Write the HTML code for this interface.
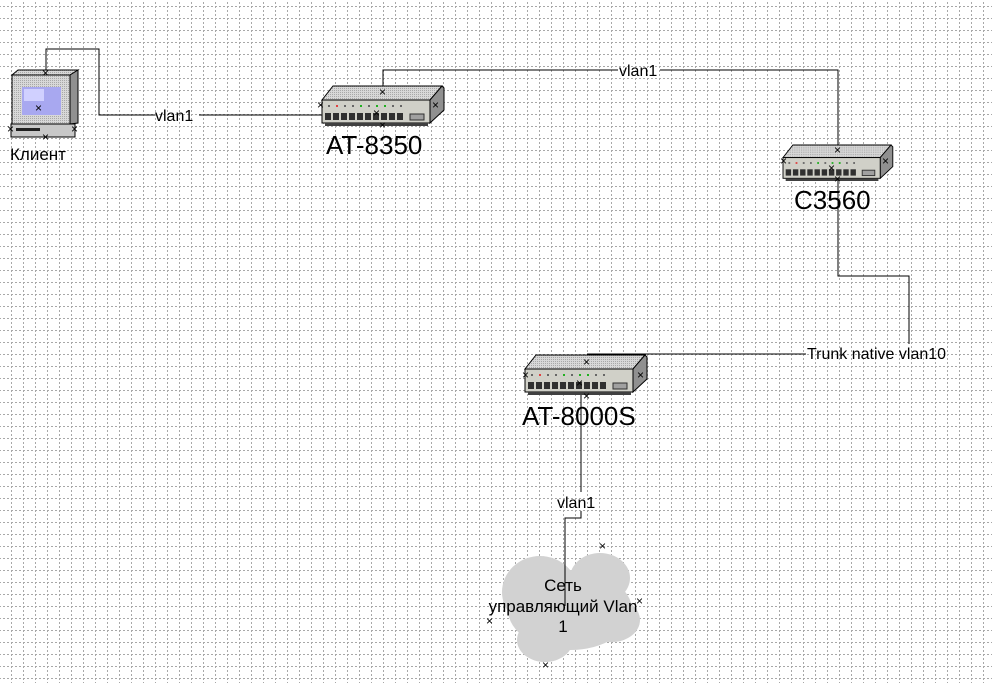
<!DOCTYPE html>
<html><head><meta charset="utf-8"><style>
html,body{margin:0;padding:0;background:#fff;}
svg{display:block;}
text{font-family:"Liberation Sans",sans-serif;fill:#000;}
</style></head><body>
<svg width="992" height="683" viewBox="0 0 992 683" xmlns="http://www.w3.org/2000/svg">
<defs>
<pattern id="grid" x="11" y="6" width="12" height="12" patternUnits="userSpaceOnUse">
<line x1="0" y1="0.5" x2="12" y2="0.5" stroke="#a8a8a8" stroke-width="1" stroke-dasharray="2,2"/>
<line x1="0.5" y1="0" x2="0.5" y2="12" stroke="#a8a8a8" stroke-width="1" stroke-dasharray="2,2"/>
</pattern>
<pattern id="dots" width="2" height="2" patternUnits="userSpaceOnUse">
<rect width="2" height="2" fill="#d8d8d8"/><rect width="1" height="1" fill="#a8a8a8"/>
</pattern>
<g id="sw">
<polygon points="11,0 120,0 108,14 0,14" fill="url(#dots)" stroke="#000" stroke-width="1"/>
<polygon points="120,0 122,2 122,24 108,37 108,14" fill="#909090" stroke="#000" stroke-width="1"/>
<rect x="0" y="14" width="108" height="23" fill="#d0d0c8" stroke="#000" stroke-width="1"/>
<rect x="3" y="37" width="103" height="3" fill="#404040"/>
<g fill="#666">
<rect x="6" y="19" width="2" height="2"/><rect x="14" y="19" width="2" height="2" fill="#e04040"/><rect x="22" y="19" width="2" height="2"/><rect x="30" y="19" width="2" height="2"/><rect x="38" y="19" width="2" height="2" fill="#20b020"/><rect x="46" y="19" width="2" height="2"/><rect x="54" y="19" width="2" height="2" fill="#20b020"/><rect x="62" y="19" width="2" height="2" fill="#20b020"/><rect x="70" y="19" width="2" height="2"/><rect x="78" y="19" width="2" height="2"/>
</g>
<g fill="#303030">
<rect x="3" y="27" width="6" height="7"/><rect x="11" y="27" width="6" height="7"/><rect x="19" y="27" width="6" height="7"/><rect x="27" y="27" width="6" height="7"/><rect x="35" y="27" width="6" height="7"/><rect x="43" y="27" width="6" height="7"/><rect x="51" y="27" width="6" height="7"/><rect x="59" y="27" width="6" height="7"/><rect x="67" y="27" width="6" height="7"/><rect x="75" y="27" width="6" height="7"/>
</g>
<rect x="88" y="28" width="14" height="6" fill="#a0a0a0" stroke="#303030"/>
</g>
</defs>
<rect width="992" height="683" fill="url(#grid)"/>

<g stroke="#000" stroke-width="1" fill="none">
<polyline points="46,72 46,49 99,49 99,115 155,115"/>
<line x1="199" y1="115" x2="322" y2="115"/>
<polyline points="383,86 383,70 618,70"/>
<polyline points="660,70 838,70 838,148"/>
<polyline points="838,168 838,276 909,276 909,344"/>
<line x1="587" y1="354" x2="806" y2="354"/>
<line x1="581" y1="395" x2="581" y2="492"/>
<polyline points="581,511 581,518 565,518 565,606"/>
</g>

<g fill="#d2d2d2">
<ellipse cx="570" cy="610" rx="62" ry="40"/>
<ellipse cx="540" cy="592" rx="38" ry="36"/>
<ellipse cx="600" cy="578" rx="30" ry="25"/>
<ellipse cx="545" cy="640" rx="28" ry="22"/>
<ellipse cx="612" cy="620" rx="28" ry="22"/>
</g>
<line x1="565" y1="530" x2="565" y2="606" stroke="#000"/>
<text x="563" y="591" font-size="17" text-anchor="middle">Сеть</text>
<text x="563" y="612" font-size="17" text-anchor="middle">управляющий Vlan</text>
<text x="563" y="632" font-size="17" text-anchor="middle">1</text>

<polygon points="12,75 18,70 78,70 70,75" fill="url(#dots)" stroke="#000"/>
<polygon points="70,75 78,70 78,123 70,124" fill="#909090" stroke="#000"/>
<rect x="12" y="75" width="58" height="49" fill="url(#dots)" stroke="#000"/>
<rect x="22" y="87" width="39" height="28" fill="#a8a8f0"/>
<rect x="24" y="89" width="20" height="12" fill="#d0d0ff"/>
<rect x="11" y="124" width="64" height="13" fill="#c8c8c8" stroke="#000"/>
<rect x="16" y="128" width="24" height="3" fill="#202020"/>
<text x="10" y="160" font-size="17">Клиент</text>

<use href="#sw" x="322" y="86"/>
<text x="326" y="154" font-size="26">AT-8350</text>
<g transform="translate(783,145) scale(0.9)"><use href="#sw"/></g>
<text x="794" y="209" font-size="26">C3560</text>
<use href="#sw" x="525" y="355"/>
<text x="522" y="425" font-size="26">AT-8000S</text>

<text x="155" y="121" font-size="16">vlan1</text>
<text x="619" y="76" font-size="16">vlan1</text>
<text x="807" y="359" font-size="16">Trunk native vlan10</text>
<text x="557" y="508" font-size="16">vlan1</text>

<g fill="#1020d0" font-size="12" font-family="Liberation Sans">
<text x="42" y="77">×</text><text x="35" y="112">×</text><text x="7" y="133">×</text><text x="71" y="133">×</text><text x="42" y="141">×</text>
<text x="379" y="96">×</text><text x="317" y="109">×</text><text x="432" y="109">×</text><text x="373" y="117">×</text><text x="379" y="129">×</text>
<text x="834" y="154">×</text><text x="780" y="165">×</text><text x="882" y="165">×</text><text x="828" y="172">×</text><text x="834" y="183">×</text>
<text x="583" y="366">×</text><text x="522" y="379">×</text><text x="637" y="379">×</text><text x="576" y="387">×</text><text x="583" y="400">×</text>
<text x="599" y="550">×</text><text x="636" y="605">×</text><text x="486" y="625">×</text><text x="542" y="669">×</text>
</g>
</svg>
</body></html>
